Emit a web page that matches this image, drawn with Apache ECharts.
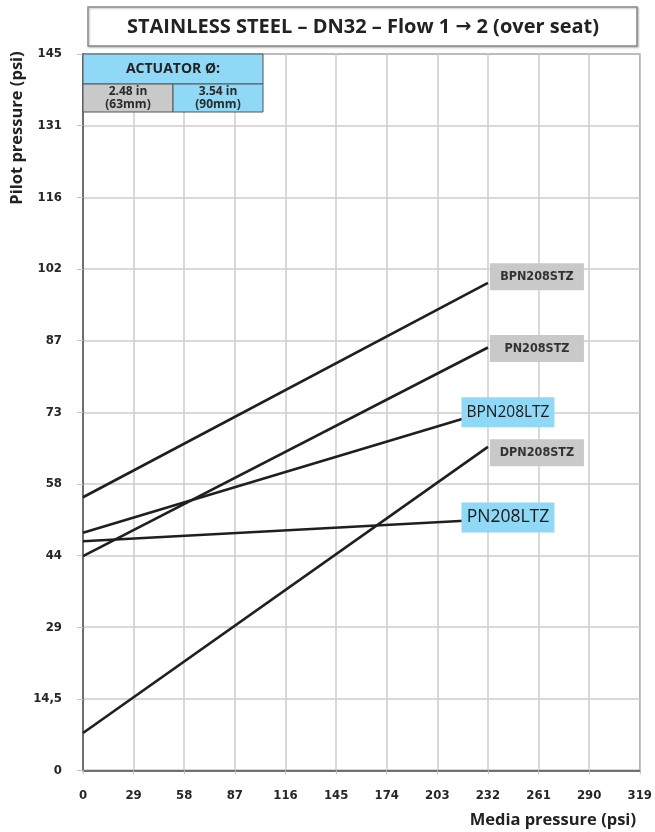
<!DOCTYPE html>
<html>
<head>
<meta charset="utf-8">
<title>Stainless steel DN32 pilot pressure</title>
<script src="https://cdn.jsdelivr.net/npm/echarts@6/dist/echarts.min.js"></script>
<style>
  html, body { margin: 0; padding: 0; background: #ffffff; }
  #chart { width: 655px; height: 832px; }
</style>
</head>
<body>
<div id="chart"></div>
<script>
// Media pressure (psi) at the start and end of each curve
const mediaPressure = [0, 232];

// Pilot pressure (psi) needed at each media pressure
const BPN208STZ = [55.3, 98.7];
const PN208STZ  = [43.4, 85.6];
const BPN208LTZ = [48.1, 72.7];
const DPN208STZ = [7.6, 65.5];
const PN208LTZ  = [46.4, 50.8];

// Axis tick labels (bar steps expressed in psi)
const yTickLabels = ['0', '14,5', '29', '44', '58', '73', '87', '102', '116', '131', '145'];
const xTickLabels = ['0', '29', '58', '87', '116', '145', '174', '203', '232', '261', '290', '319'];

const GREY = '#c9c9ca';
const BLUE = '#8fd8f6';
const condensed = "'Liberation Sans Narrow', 'DejaVu Sans Condensed', 'Noto Sans', sans-serif";
const sans = "'Open Sans', 'Noto Sans', sans-serif";

// name, values, actuator colour, label offset from the curve end, font size
const curves = [
  { name: 'BPN208STZ', values: BPN208STZ, fill: GREY, dx: 49, dy: -6, big: false },
  { name: 'PN208STZ',  values: PN208STZ,  fill: GREY, dx: 49, dy: 1,  big: false },
  { name: 'BPN208LTZ', values: BPN208LTZ, fill: BLUE, dx: 20, dy: 1,  big: 15.5 },
  { name: 'DPN208STZ', values: DPN208STZ, fill: GREY, dx: 49, dy: 6,  big: false },
  { name: 'PN208LTZ',  values: PN208LTZ,  fill: BLUE, dx: 20, dy: -2, big: 17.5 }
];

const series = [];
curves.forEach(c => {
  const pts = mediaPressure.map((x, i) => [x, c.values[i]]);
  series.push({
    type: 'line',
    name: c.name,
    data: pts,
    symbol: 'none',
    lineStyle: { color: '#1f1f1f', width: 2.6 },
    z: 3,
    silent: true
  });
  const last = pts[pts.length - 1];
  series.push({
    type: 'scatter',
    name: c.name + ' label',
    data: [last],
    symbolSize: 0,
    itemStyle: { opacity: 1 },
    z: 6,
    silent: true,
    label: {
      show: true,
      position: 'inside',
      offset: [c.dx, c.dy],
      formatter: c.name,
      backgroundColor: c.fill,
      opacity: 1,
      width: c.big ? 93 : 94,
      height: c.big ? 30 : 27,
      lineHeight: c.big ? 30 : 27,
      align: 'center',
      verticalAlign: 'middle',
      color: c.big ? '#1a1a1a' : '#333333',
      fontFamily: c.big ? sans : condensed,
      fontWeight: c.big ? 'normal' : 'bold',
      fontSize: c.big ? c.big : 12.5
    }
  });
});

const chart = echarts.init(document.getElementById('chart'), null, { renderer: 'canvas' });

chart.setOption({
  animation: false,
  backgroundColor: '#ffffff',
  grid: {
    left: 83, right: 15, top: 54, bottom: 61.5,
    show: true, borderColor: '#6a6a6a', borderWidth: 1.5,
    containLabel: false
  },
  xAxis: {
    type: 'value',
    min: 0, max: 319, interval: 29,
    axisLine: { show: true, lineStyle: { color: '#555', width: 1.5 } },
    axisTick: { show: true, length: 4, lineStyle: { color: '#c4c4c4' } },
    splitLine: { show: true, lineStyle: { color: '#cdcdcd', width: 1.5 } },
    axisLabel: {
      margin: 19,
      color: '#262626', fontWeight: 'bold', fontSize: 13, fontFamily: condensed,
      formatter: v => xTickLabels[Math.round(v / 29)]
    }
  },
  yAxis: {
    type: 'value',
    min: 0, max: 145, interval: 14.5,
    axisLine: { show: true, lineStyle: { color: '#555', width: 1.5 } },
    axisTick: { show: true, length: 6, lineStyle: { color: '#c4c4c4' } },
    splitLine: { show: true, lineStyle: { color: '#cdcdcd', width: 1.5 } },
    axisLabel: {
      margin: 21,
      color: '#262626', fontWeight: 'bold', fontSize: 13, fontFamily: condensed,
      formatter: v => yTickLabels[Math.round(v / 14.5)]
    }
  },
  graphic: [
    // title box
    {
      type: 'rect', z: 20,
      shape: { x: 88, y: 7, width: 549, height: 39 },
      style: { fill: '#ffffff', stroke: '#8a8a8a', lineWidth: 1.5,
               shadowColor: 'rgba(0,0,0,0.25)', shadowBlur: 2, shadowOffsetX: 1, shadowOffsetY: 1 }
    },
    {
      type: 'text', z: 21,
      x: 363, y: 27,
      style: {
        text: '{t|STAINLESS STEEL – DN32 – Flow 1 }{a|→}{t| 2 (over seat)}',
        align: 'center', verticalAlign: 'middle',
        rich: {
          t: { fill: '#222', fontFamily: sans, fontWeight: 'bold', fontSize: 20 },
          a: { fill: '#222', fontFamily: "'DejaVu Sans', sans-serif", fontWeight: 'bold', fontSize: 19 }
        }
      }
    },
    // actuator diameter key
    {
      type: 'rect', z: 20,
      shape: { x: 83, y: 54, width: 180, height: 30 },
      style: { fill: BLUE, stroke: '#555', lineWidth: 1 }
    },
    {
      type: 'text', z: 21, x: 173, y: 69,
      style: { text: 'ACTUATOR Ø:', fill: '#222', font: "bold 14px 'Open Sans', 'Noto Sans', sans-serif",
               align: 'center', verticalAlign: 'middle' }
    },
    {
      type: 'rect', z: 20,
      shape: { x: 83, y: 84, width: 90, height: 28 },
      style: { fill: GREY, stroke: '#555', lineWidth: 1 }
    },
    {
      type: 'rect', z: 20,
      shape: { x: 173, y: 84, width: 90, height: 28 },
      style: { fill: BLUE, stroke: '#555', lineWidth: 1 }
    },
    {
      type: 'text', z: 21, x: 128, y: 98,
      style: { text: '2.48 in\n(63mm)', fill: '#2a2a2a', font: "bold 12px 'Open Sans', 'Noto Sans', sans-serif",
               lineHeight: 12.5, align: 'center', verticalAlign: 'middle' }
    },
    {
      type: 'text', z: 21, x: 218, y: 98,
      style: { text: '3.54 in\n(90mm)', fill: '#2a2a2a', font: "bold 12px 'Open Sans', 'Noto Sans', sans-serif",
               lineHeight: 12.5, align: 'center', verticalAlign: 'middle' }
    },
    // axis titles
    {
      type: 'text', z: 21, x: 17, y: 128, rotation: Math.PI / 2,
      style: { text: 'Pilot pressure (psi)', fill: '#222', font: "bold 16.5px 'Open Sans', 'Noto Sans', sans-serif",
               align: 'center', verticalAlign: 'middle' }
    },
    {
      type: 'text', z: 21, x: 636, y: 820,
      style: { text: 'Media pressure (psi)', fill: '#222', font: "bold 16.5px 'Open Sans', 'Noto Sans', sans-serif",
               align: 'right', verticalAlign: 'middle' }
    }
  ],
  series: series
});
</script>
</body>
</html>
